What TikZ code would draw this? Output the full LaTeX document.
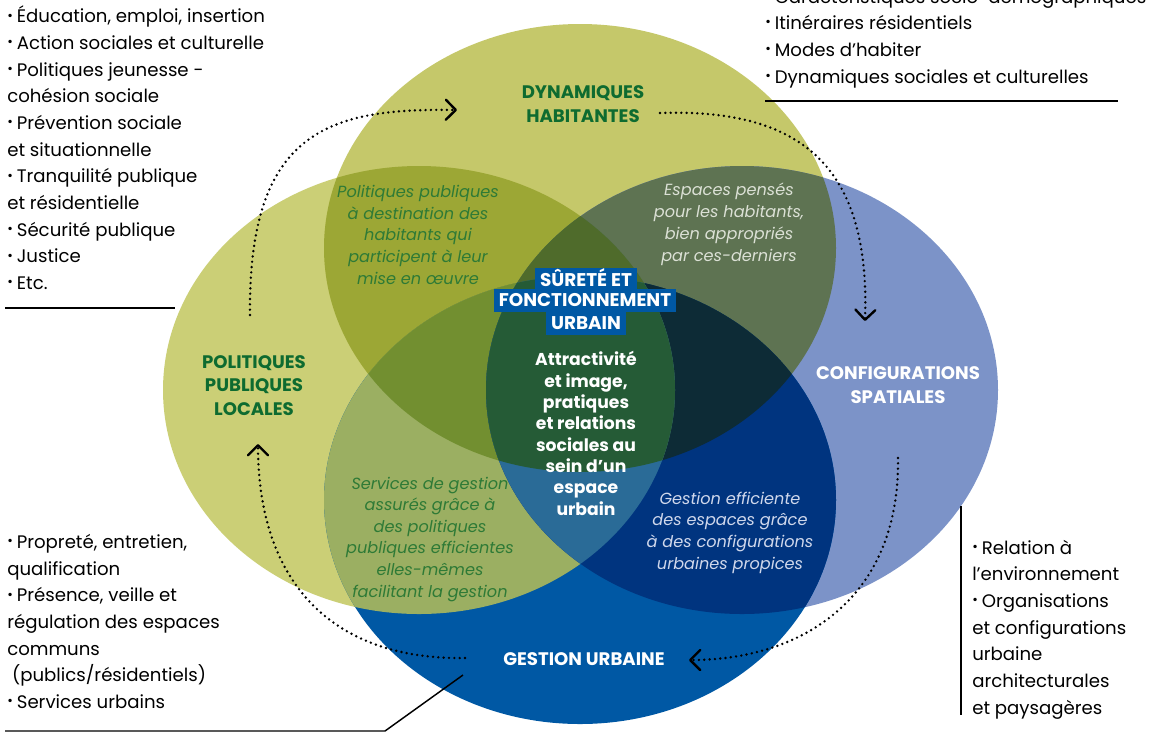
\documentclass[tikz,border=0pt]{standalone}
\usepackage{fontspec}
\setmainfont{Poppins}
\usepackage{graphicx}
\usetikzlibrary{arrows.meta}
\definecolor{cT}{HTML}{C5C86A}
\definecolor{cL}{HTML}{CBCF76}
\definecolor{cR}{HTML}{7C93C8}
\definecolor{cB}{HTML}{0058A4}
\definecolor{cTL}{HTML}{9CA735}
\definecolor{cTR}{HTML}{5E7352}
\definecolor{cTB}{HTML}{35602F}
\definecolor{cLR}{HTML}{4A7050}
\definecolor{cLB}{HTML}{9BAF62}
\definecolor{cRB}{HTML}{00347F}
\definecolor{cTLB}{HTML}{728F30}
\definecolor{cTRB}{HTML}{0D2B36}
\definecolor{cTLR}{HTML}{4F6B2B}
\definecolor{cLRB}{HTML}{2A6B97}
\definecolor{cAll}{HTML}{255B36}
\definecolor{dkgreen}{HTML}{0E6B30}
\definecolor{itgreen}{HTML}{2E7A36}
\definecolor{itlight}{HTML}{DCE1D6}
\definecolor{itblue}{HTML}{D0D8EC}
\definecolor{boxblue}{HTML}{0058A4}
\newcommand\bl{\raisebox{0.28ex}{\scalebox{0.75}{•}}\hspace{0.22em}}
\def\pT{(580,248) ellipse [x radius=192pt, y radius=168pt]}
\def\pL{(419,390) ellipse [x radius=192pt, y radius=168pt]}
\def\pR{(742,390) ellipse [x radius=192pt, y radius=168pt]}
\def\pB{(580,500) ellipse [x radius=192pt, y radius=168pt]}
\tikzset{
  lst/.style={anchor=base west, align=left, inner sep=0pt, font=\fontsize{13.6}{20}\selectfont, text=black},
  lbl/.style={anchor=base, align=center, inner sep=0pt, font=\fontsize{13.6}{17.6}\selectfont\bfseries},
  itx/.style={anchor=base, align=center, inner sep=0pt, font=\fontsize{12.1}{16.2}\selectfont\itshape},
  sbox/.style={fill=boxblue, text=white, inner xsep=3.5pt, inner ysep=0pt, minimum height=17.5pt, text height=9.6pt, text depth=0pt, font=\fontsize{13.8}{14}\selectfont\bfseries},
  arr/.style={line width=2pt, line cap=round, dash pattern=on 0pt off 4pt, -{Straight Barb[length=7.5pt,width=15pt,line width=1.8pt,round]}},
  rule/.style={line width=1.1pt, black}
}
\begin{document}
\begin{tikzpicture}[x=0.75pt,y=-0.75pt]
\clip (0,0) rectangle (1149,733);
\fill[white] (0,0) rectangle (1149,733);
% single ellipses
\fill[cL] \pL;
\fill[cT] \pT;
\fill[cR] \pR;
\fill[cB] \pB;
% pairs
\begin{scope}\clip \pT; \fill[cTL] \pL; \end{scope}
\begin{scope}\clip \pT; \fill[cTR] \pR; \end{scope}
\begin{scope}\clip \pT; \fill[cTB] \pB; \end{scope}
\begin{scope}\clip \pL; \fill[cLR] \pR; \end{scope}
\begin{scope}\clip \pL; \fill[cLB] \pB; \end{scope}
\begin{scope}\clip \pR; \fill[cRB] \pB; \end{scope}
% triples
\begin{scope}\clip \pT; \clip \pL; \fill[cTLB] \pB; \end{scope}
\begin{scope}\clip \pT; \clip \pR; \fill[cTRB] \pB; \end{scope}
\begin{scope}\clip \pT; \clip \pL; \fill[cTLR] \pR; \end{scope}
\begin{scope}\clip \pL; \clip \pR; \fill[cLRB] \pB; \end{scope}
% all four
\begin{scope}\clip \pT; \clip \pL; \clip \pR; \fill[cAll] \pB; \end{scope}

% main labels (anchor = baseline of last line)
\node[lbl, text=dkgreen] (dyn) at (583,122) {DYNAMIQUES\\HABITANTES};
\node[lbl, text=dkgreen] (pol) at (254,415) {POLITIQUES\\PUBLIQUES\\LOCALES};
\node[lbl, text=white] (conf) at (898,403) {CONFIGURATIONS\\SPATIALES};
\node[lbl, text=white] (gest) at (584,665) {GESTION URBAINE};

% centre
\node[sbox] (s2) at (585,300.5) {FONCTIONNEMENT};
\node[sbox] (s1) at (586,280) {SÛRETÉ ET};
\node[sbox] (s3) at (586,323) {URBAIN};
\node[anchor=base, align=center, inner sep=0pt, text=white, font=\fontsize{12.9}{16}\selectfont\bfseries] (attr) at (586,515)
  {Attractivité\\et image,\\pratiques\\et relations\\sociales au\\sein d’un\\espace\\urbain};

% overlap texts
\node[itx, text=itgreen] (tl) at (418,284) {Politiques publiques\\à destination des\\habitants qui\\participent à leur\\mise en œuvre};
\node[itx, text=itlight, font=\fontsize{12.1}{16.5}\selectfont\itshape] (tr) at (729,261) {Espaces pensés\\pour les habitants,\\bien appropriés\\par ces-derniers};
\node[itx, text=itgreen] (lb) at (430,597) {Services de gestion\\assurés grâce à\\des politiques\\publiques efficientes\\elles-mêmes\\facilitant la gestion};
\node[itx, text=itblue] (rb) at (730,569) {Gestion efficiente\\des espaces grâce\\à des configurations\\urbaines propices};

% lists
\node[lst] (ltl) at (7,289.5) {\bl Éducation, emploi, insertion\\\bl Action sociales et culturelle\\\bl Politiques jeunesse -\\cohésion sociale\\\bl Prévention sociale\\et situationnelle\\\bl Tranquilité publique\\et résidentielle\\\bl Sécurité publique\\\bl Justice\\\bl Etc.};
\node[lst] (ltr) at (765,83) {\bl Caractéristiques socio-démographiques\\\bl Itinéraires résidentiels\\\bl Modes d’habiter\\\bl Dynamiques sociales et culturelles};
\node[lst] (lbl) at (7,708.5) {\bl Propreté, entretien,\\qualification\\\bl Présence, veille et\\régulation des espaces\\communs\\\ (publics/résidentiels)\\\bl Services urbains};
\node[lst] (lr) at (972,714) {\bl Relation à\\l’environnement\\\bl Organisations\\et configurations\\urbaine\\architecturales\\et paysagères};

% rules
\coordinate (r1a) at (5,308); \coordinate (r1b) at (175,308);
\coordinate (r2a) at (765,101); \coordinate (r2b) at (1118,101);
\coordinate (r3a) at (5,731); \coordinate (r3b) at (385,731); \coordinate (r3c) at (463,675);
\coordinate (r4a) at (961,506); \coordinate (r4b) at (961,715);
\draw[rule] (r1a) -- (r1b);
\draw[rule] (r2a) -- (r2b);
\draw[rule] (r3a) -- (r3b) -- (r3c);
\draw[rule] (r4a) -- (r4b);

% dotted cycle arrows
\coordinate (a1s) at (250,315); \coordinate (a1e) at (457,110);
\coordinate (a2s) at (660,113); \coordinate (a2e) at (865,321);
\coordinate (a3s) at (898,458); \coordinate (a3e) at (689,660);
\coordinate (a4s) at (465,658); \coordinate (a4e) at (258,444);
\draw[arr] (a1s) .. controls (248,130) and (330,108) .. (a1e);
\draw[arr] (a2s) .. controls (805,108) and (870,170) .. (a2e);
\draw[arr] (a3s) .. controls (900,600) and (800,660) .. (a3e);
\draw[arr] (a4s) .. controls (330,660) and (258,580) .. (a4e);
\end{tikzpicture}
\end{document}
